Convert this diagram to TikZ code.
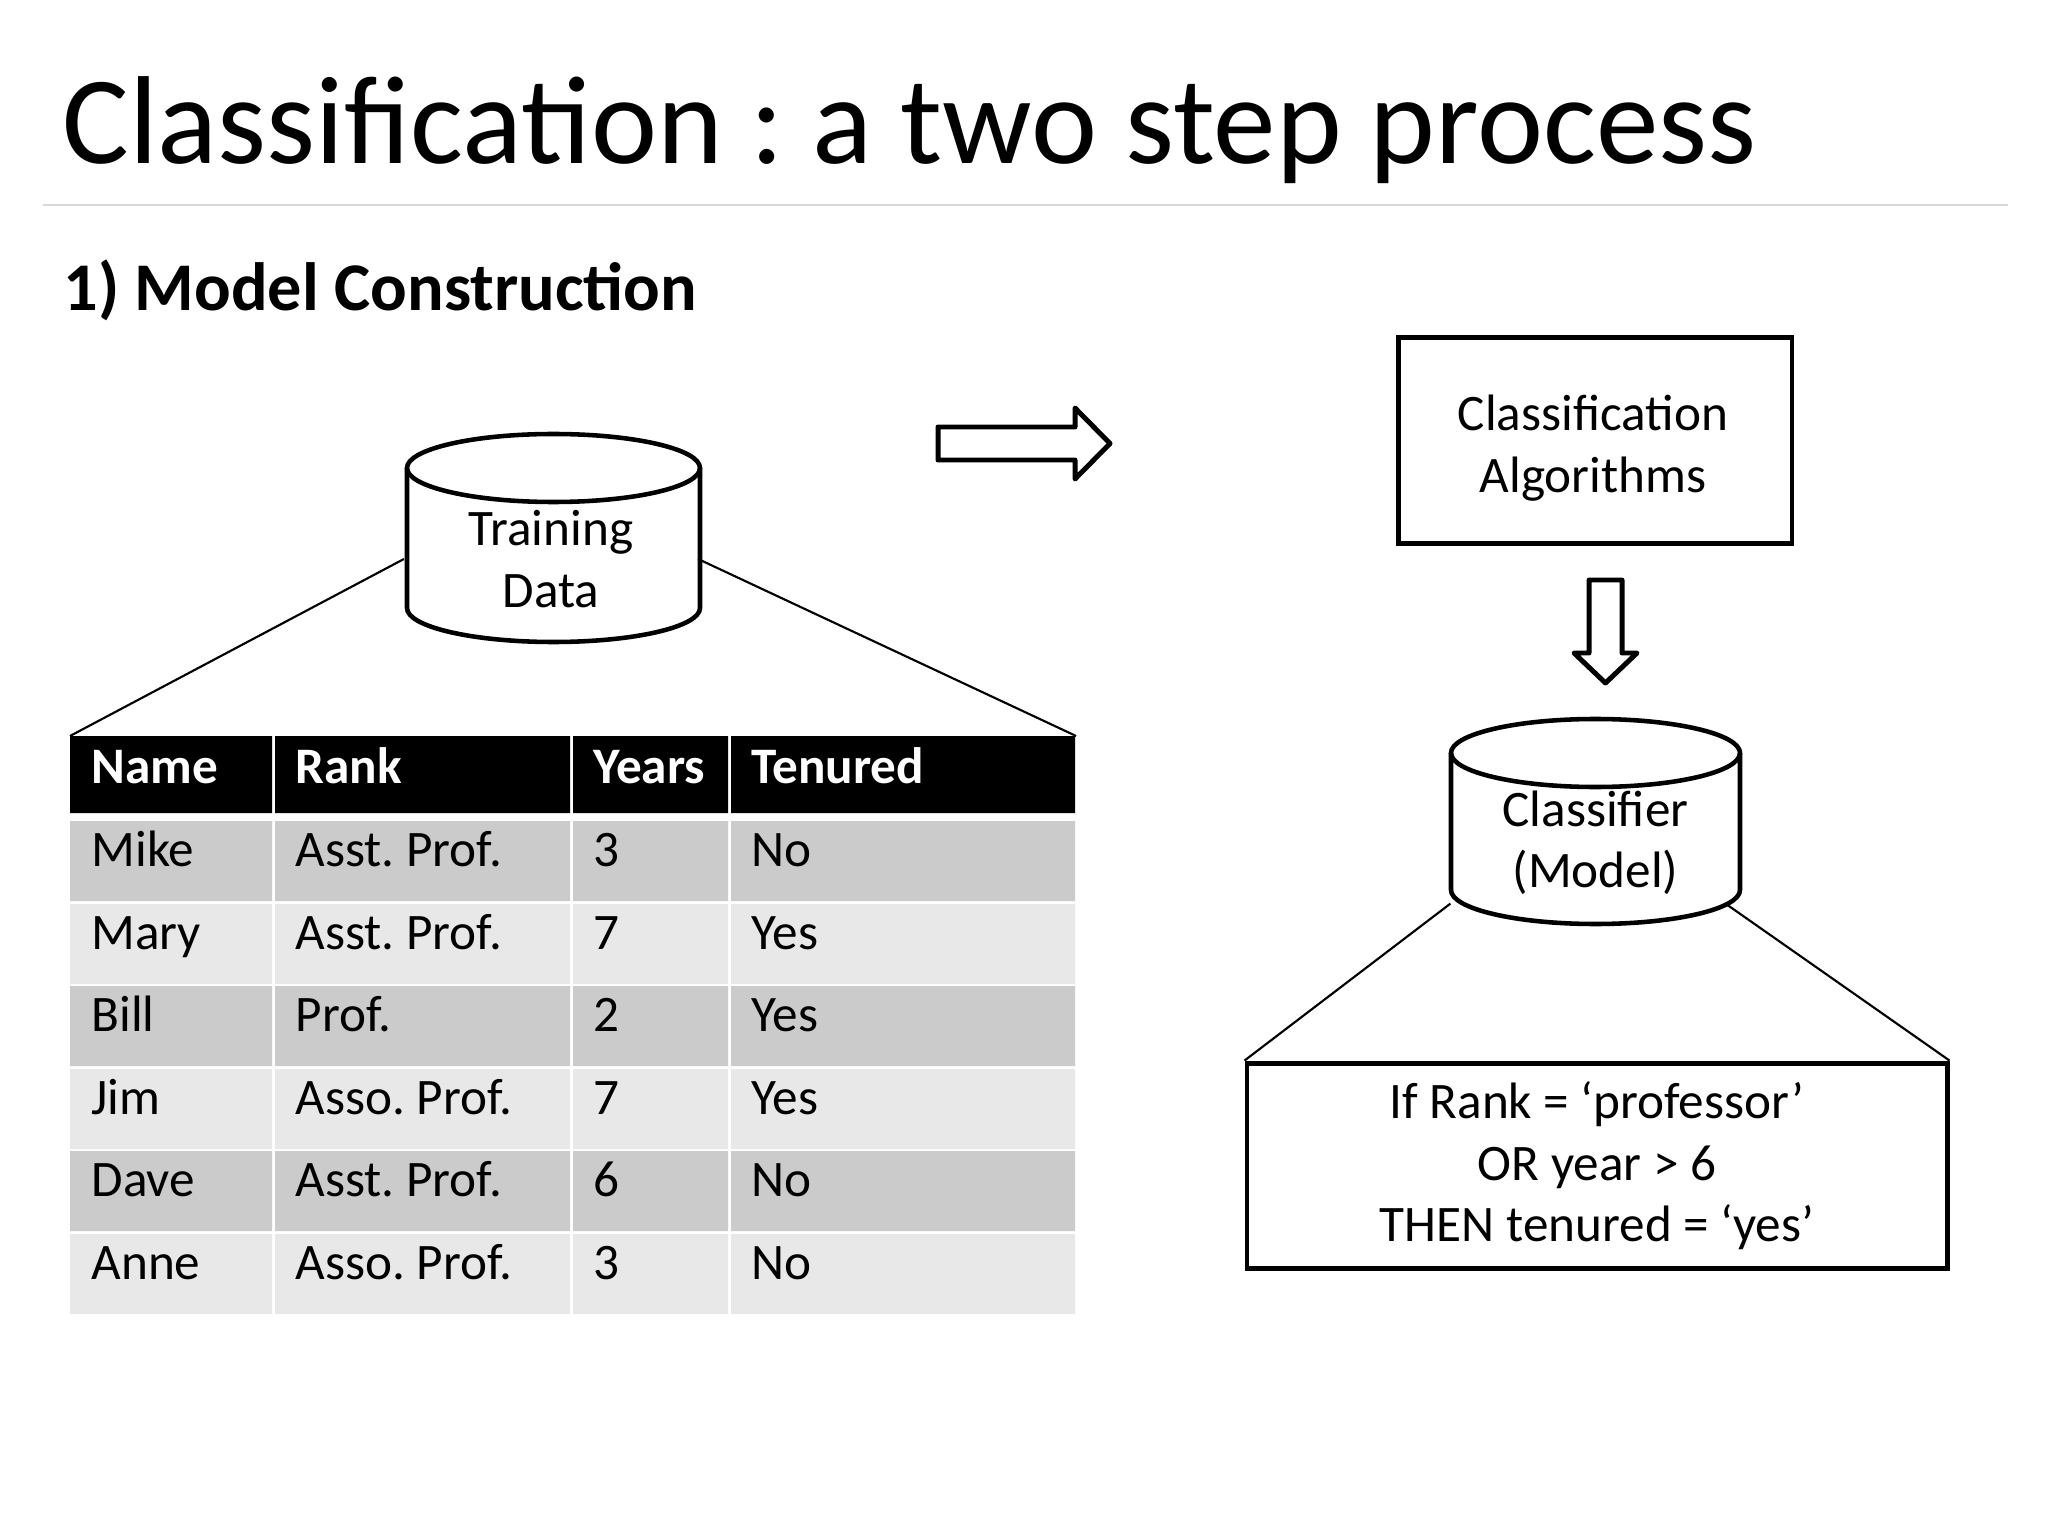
\documentclass[tikz,border=0pt]{standalone}
\usepackage{fontspec}
\setmainfont{Carlito}
\usepackage{tikz}
\frenchspacing
\definecolor{rowdark}{RGB}{203,203,203}
\definecolor{rowlight}{RGB}{232,232,232}
\definecolor{rulegray}{RGB}{217,217,217}
\tikzstyle{db}=[draw, line width=1.6pt]
\tikzstyle{box}=[draw, line width=1.75pt, rectangle, align=center, font=\fontsize{18}{21.6}\selectfont]
\tikzstyle{dbtext}=[rectangle, inner sep=0pt, align=center, font=\fontsize{18}{21.6}\selectfont]
\tikzstyle{cell}=[anchor=base west, inner sep=0pt, font=\fontsize{18}{21.6}\selectfont]
\tikzstyle{headtext}=[anchor=base west, inner sep=0pt, text=white, font=\bfseries\fontsize{18}{21.6}\selectfont]
\tikzstyle{zoomline}=[draw, line width=0.75pt]
\tikzstyle{bigarrow}=[draw, line width=1.75pt, line join=round]

\begin{document}
\begin{tikzpicture}[x=0.3515625pt, y=-0.3515625pt]
  \useasboundingbox (0,0) rectangle (2048,1536);
  % headers
  \node[anchor=base west, inner sep=0pt, font=\fontsize{44}{52.8}\selectfont] (title) at (62,164) {Classification : a two step process};
  \draw[rulegray, line width=0.8pt] (43,205) -- (2008,205);
  \node[anchor=base west, inner sep=0pt, font=\bfseries\fontsize{24}{28.8}\selectfont] (step) at (63,311) {1) Model Construction};
  % training data
  \draw[db] (553.5,468) ellipse [x radius=146.5, y radius=34];
  \draw[db] (407,468) -- (407,608) arc[start angle=180, end angle=0, x radius=146.5, y radius=34] -- (700,468);
  \node[dbtext, minimum width=103pt] (traindb) at (551,559) {Training\\Data};
  % table
  \node[inner sep=0pt, minimum width=353.3pt, minimum height=203.2pt, anchor=north west] (table) at (70,736) {};
  \fill[black] (70,736) rectangle (272,813) (275,736) rectangle (570,813) (573,736) rectangle (728,813) (731,736) rectangle (1075,813);
  \fill[rowdark] (70,821) rectangle (272,901) (275,821) rectangle (570,901) (573,821) rectangle (728,901) (731,821) rectangle (1075,901);
  \fill[rowlight] (70,904) rectangle (272,984) (275,904) rectangle (570,984) (573,904) rectangle (728,984) (731,904) rectangle (1075,984);
  \fill[rowdark] (70,986) rectangle (272,1066) (275,986) rectangle (570,1066) (573,986) rectangle (728,1066) (731,986) rectangle (1075,1066);
  \fill[rowlight] (70,1069) rectangle (272,1149) (275,1069) rectangle (570,1149) (573,1069) rectangle (728,1149) (731,1069) rectangle (1075,1149);
  \fill[rowdark] (70,1151) rectangle (272,1231) (275,1151) rectangle (570,1231) (573,1151) rectangle (728,1231) (731,1151) rectangle (1075,1231);
  \fill[rowlight] (70,1234) rectangle (272,1314) (275,1234) rectangle (570,1314) (573,1234) rectangle (728,1314) (731,1234) rectangle (1075,1314);
  \node[headtext] (namehd) at (91,783) {Name};
  \node[headtext] (rankhd) at (295,783) {Rank};
  \node[headtext] (yearshd) at (593,783) {Years};
  \node[headtext] (tenhd) at (751,783) {Tenured};
  \node[cell] (mike) at (91,866) {Mike};
  \node[cell] (mikerank) at (295,866) {Asst. Prof.};
  \node[cell] (mikeyears) at (593,866) {3};
  \node[cell] (miketen) at (751,866) {No};
  \node[cell] (mary) at (91,949) {Mary};
  \node[cell] (maryrank) at (295,949) {Asst. Prof.};
  \node[cell] (maryyears) at (593,949) {7};
  \node[cell] (maryten) at (751,949) {Yes};
  \node[cell] (bill) at (91,1031) {Bill};
  \node[cell] (billrank) at (295,1031) {Prof.};
  \node[cell] (billyears) at (593,1031) {2};
  \node[cell] (billten) at (751,1031) {Yes};
  \node[cell] (jim) at (91,1114) {Jim};
  \node[cell] (jimrank) at (295,1114) {Asso. Prof.};
  \node[cell] (jimyears) at (593,1114) {7};
  \node[cell] (jimten) at (751,1114) {Yes};
  \node[cell] (dave) at (91,1196) {Dave};
  \node[cell] (daverank) at (295,1196) {Asst. Prof.};
  \node[cell] (daveyears) at (593,1196) {6};
  \node[cell] (daveten) at (751,1196) {No};
  \node[cell] (anne) at (91,1279) {Anne};
  \node[cell] (annerank) at (295,1279) {Asso. Prof.};
  \node[cell] (anneyears) at (593,1279) {3};
  \node[cell] (anneten) at (751,1279) {No};
  \draw[zoomline] (traindb.west) -- (table.north west);
  \draw[zoomline] (traindb.east) -- (table.north east);
  % arrows
  \draw[bigarrow] (938,427) -- (1075,427) -- (1075,408) -- (1110,443.5) -- (1075,479) -- (1075,460) -- (938,460) -- cycle;
  \draw[bigarrow] (1589,580) -- (1622,580) -- (1622,653) -- (1637,653) -- (1605.5,683) -- (1574,653) -- (1589,653) -- cycle;
  % right side
  \node[box, minimum width=138.5pt, minimum height=72.1pt] (algo) at (1595,440.5) {};
  \node[dbtext] (algotext) at (1593,448) {Classification\\Algorithms};
  \draw[db] (1595.5,753) ellipse [x radius=144.5, y radius=34];
  \draw[db] (1451,753) -- (1451,890) arc[start angle=180, end angle=0, x radius=144.5, y radius=34] -- (1740,753);
  \node[dbtext, minimum width=101.6pt, minimum height=42.2pt] (clsdb) at (1595.5,843) {Classifier\\(Model)};
  \node[box, minimum width=246.1pt, minimum height=72.4pt] (rule) at (1597,1166) {If Rank = ‘professor’\\OR year > 6\\THEN tenured = ‘yes’};
  \draw[zoomline] (clsdb.south west) -- (rule.north west);
  \draw[zoomline] (clsdb.335.8) -- (rule.north east);
\end{tikzpicture}
\end{document}
